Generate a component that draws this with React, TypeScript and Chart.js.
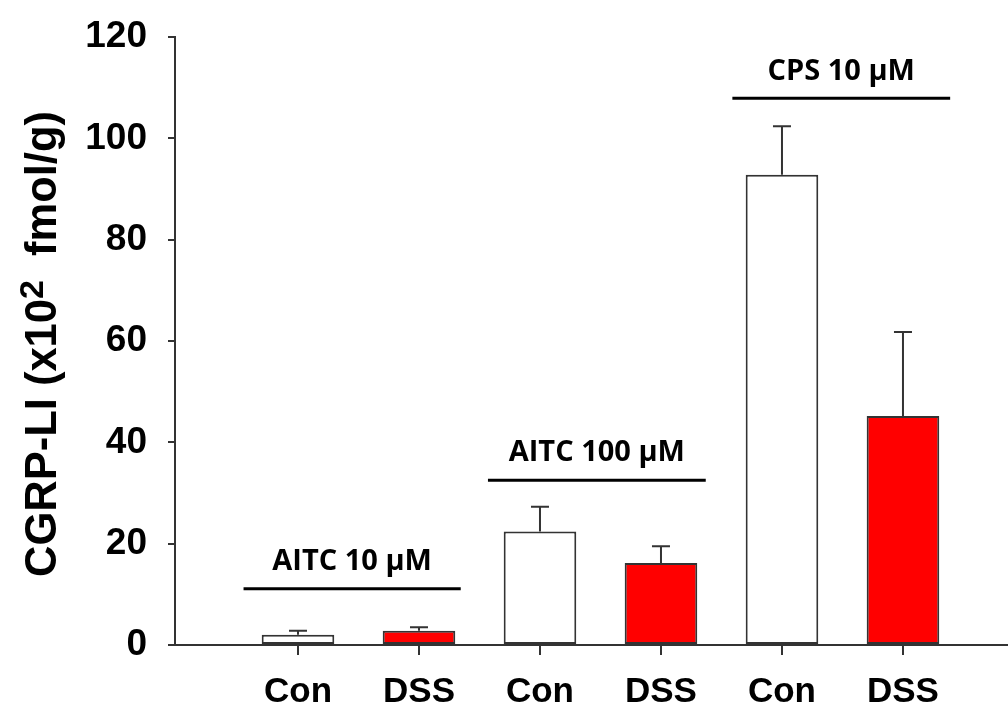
import { useEffect, useRef } from 'react';
import { Chart, registerables } from 'chart.js';

Chart.register(...registerables);

// ---- data ----
const categories = ['Con', 'DSS', 'Con', 'DSS', 'Con', 'DSS'];
const means = [2.0, 2.8, 22.4, 16.2, 92.8, 45.2];
const sems = [0.8, 0.7, 4.9, 3.3, 9.6, 16.6];
const barFills = ['#ffffff', '#ff0000', '#ffffff', '#ff0000', '#ffffff', '#ff0000'];
const yTicks = [0, 20, 40, 60, 80, 100, 120];

const groupLabels = ['AITC 10 µM', 'AITC 100 µM', 'CPS 10 µM'];
const groupFrom = [-0.45, 1.57, 3.59];
const groupTo = [1.345, 3.37, 5.39];
const groupLineLevel = [11.1, 32.5, 107.9];
const groupTextLevel = [14.8, 36.4, 111.5];

const FONT = "'Liberation Sans', Arial, sans-serif";
const AXIS = '#333333';

const overlay = {
  id: 'overlay',
  afterDatasetsDraw(chart: any) {
    const { ctx } = chart;
    const x = chart.scales.x;
    const y = chart.scales.y;
    ctx.save();
    // error bars (upper only)
    ctx.strokeStyle = AXIS;
    ctx.lineWidth = 2;
    means.forEach((m, i) => {
      const px = x.getPixelForValue(i);
      const y0 = y.getPixelForValue(m);
      const y1 = y.getPixelForValue(m + sems[i]);
      ctx.beginPath();
      ctx.moveTo(px, y0);
      ctx.lineTo(px, y1);
      ctx.moveTo(px - 9, y1);
      ctx.lineTo(px + 9, y1);
      ctx.stroke();
    });
    // group brackets and labels
    ctx.strokeStyle = '#000';
    ctx.lineWidth = 3;
    ctx.fillStyle = '#000';
    ctx.font = "bold 29px 'Open Sans', sans-serif";
    ctx.textAlign = 'center';
    ctx.textBaseline = 'alphabetic';
    groupLabels.forEach((lab, i) => {
      const xa = x.getPixelForValue(groupFrom[i]);
      const xb = x.getPixelForValue(groupTo[i]);
      const ly = y.getPixelForValue(groupLineLevel[i]);
      ctx.beginPath();
      ctx.moveTo(xa, ly);
      ctx.lineTo(xb, ly);
      ctx.stroke();
      ctx.fillText(lab, (xa + xb) / 2, y.getPixelForValue(groupTextLevel[i]));
    });
    ctx.restore();

    // y-axis title with superscript
    ctx.save();
    const part1 = 'CGRP-LI (x10';
    const sup = '2';
    const part2 = '  fmol/g)';
    const mainFont = `bold 43.5px ${FONT}`;
    const supFont = `bold 34px ${FONT}`;
    ctx.font = mainFont;
    const w1 = ctx.measureText(part1).width;
    const w3 = ctx.measureText(part2).width;
    ctx.font = supFont;
    const w2 = ctx.measureText(sup).width;
    const total = w1 + w2 + w3;
    ctx.translate(56, 344);
    ctx.rotate(-Math.PI / 2);
    ctx.fillStyle = '#000';
    ctx.textAlign = 'left';
    ctx.textBaseline = 'alphabetic';
    let cx = -total / 2;
    ctx.font = mainFont;
    ctx.fillText(part1, cx, 0);
    cx += w1;
    ctx.font = supFont;
    ctx.fillText(sup, cx, -13);
    cx += w2;
    ctx.font = mainFont;
    ctx.fillText(part2, cx, 0);
    ctx.restore();
  },
};

export default function App() {
  const ref = useRef<HTMLCanvasElement | null>(null);
  useEffect(() => {
    if (!ref.current) return;
    const chart = new Chart(ref.current, {
      type: 'bar',
      data: {
        datasets: [
          {
            data: means.map((v, i) => ({ x: i, y: v })),
            backgroundColor: barFills,
            borderColor: AXIS,
            borderWidth: 2,
            borderSkipped: false,
            barPercentage: 0.6,
            categoryPercentage: 1,
          },
        ],
      },
      options: {
        responsive: false,
        animation: false,
        devicePixelRatio: 1,
        layout: { padding: { top: 37, left: 0, right: 0, bottom: 0 } },
        plugins: { legend: { display: false }, tooltip: { enabled: false } },
        scales: {
          x: {
            type: 'linear',
            offset: false,
            min: -1.0165,
            max: 5.868,
            afterBuildTicks: (s: any) => {
              s.ticks = categories.map((_, i) => ({ value: i }));
            },
            afterFit: (s: any) => {
              s.height = 63;
              s.paddingLeft = 0;
              s.paddingRight = 0;
            },
            ticks: {
              callback: (v: any) => categories[Math.round(Number(v))] ?? '',
              font: { family: FONT, size: 35, weight: 'bold' },
              color: '#000',
              padding: 16,
              autoSkip: false,
              maxRotation: 0,
            },
            grid: { offset: false, drawOnChartArea: false, tickLength: 10, color: AXIS, lineWidth: 2 },
            border: { display: true, color: AXIS, width: 2 },
          },
          y: {
            type: 'linear',
            min: 0,
            max: 120,
            afterBuildTicks: (s: any) => {
              s.ticks = yTicks.map((v) => ({ value: v }));
            },
            afterFit: (s: any) => {
              s.width = 175;
              s.paddingTop = 0;
              s.paddingBottom = 0;
            },
            ticks: {
              font: { family: FONT, size: 37, weight: 'bold' },
              color: '#000',
              padding: 21,
            },
            grid: { drawOnChartArea: false, tickLength: 7, color: AXIS, lineWidth: 2 },
            border: { display: true, color: AXIS, width: 2 },
          },
        },
      } as any,
      plugins: [overlay],
    });
    return () => chart.destroy();
  }, []);
  return (
    <div style={{ position: 'absolute', left: 0, top: 0, width: 1008, height: 708, background: '#fff' }}>
      <canvas ref={ref} width={1008} height={708} />
    </div>
  );
}
